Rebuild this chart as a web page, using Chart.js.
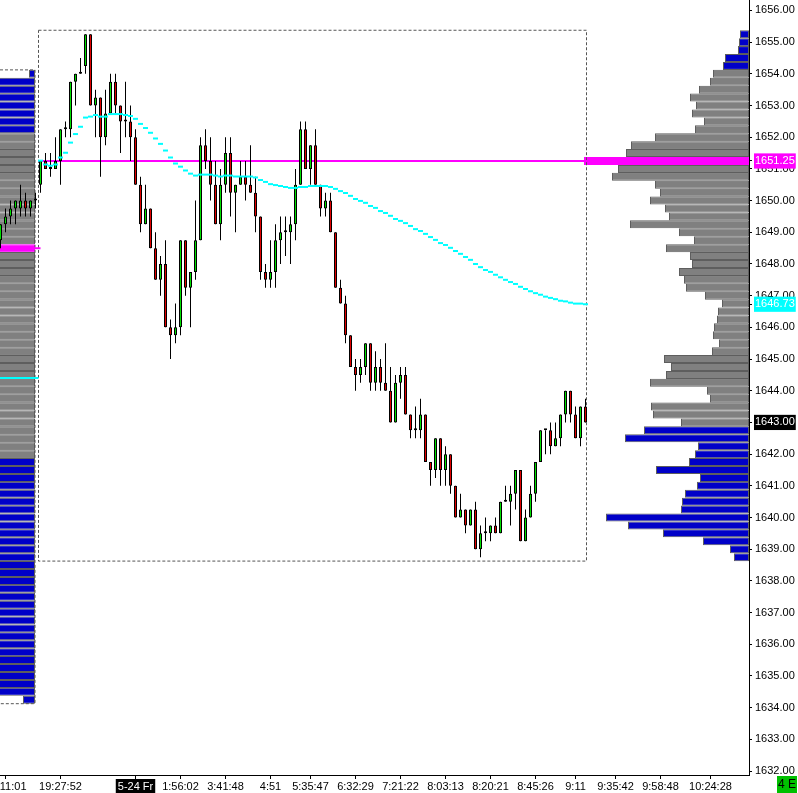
<!DOCTYPE html>
<html>
<head>
<meta charset="utf-8">
<title>Range bars with volume profile</title>
<script src="https://cdn.jsdelivr.net/npm/chart.js@4.4.1/dist/chart.umd.min.js"></script>
<style>
  html, body { margin: 0; padding: 0; background: #ffffff; overflow: hidden; }
  #box { position: relative; width: 798px; height: 793px; }
</style>
</head>
<body>
<div id="box"><canvas id="chart" width="798" height="793"></canvas></div>
<script>
// bar numbers: -8..-1 are the end of the previous session, 0.. the current one
const firstBar = -8;

const opens = [
  1648.75, 1649.25, 1649.5, 1649.75, 1649.75, 1650.0, 1649.75, 1650.0,
  1650.5, 1651.25, 1651.0, 1651.0, 1651.25, 1652.25, 1652.25, 1653.75, 1654.0, 1654.25,
  1655.25, 1653.0, 1653.25, 1652.0, 1652.75, 1653.75, 1653.0, 1652.5, 1652.5, 1652.0,
  1650.5, 1649.25, 1649.75, 1648.5, 1647.5, 1648.0, 1646.0, 1645.75, 1646.0, 1648.75,
  1647.25, 1647.75, 1648.75, 1651.75, 1651.25, 1650.5, 1649.25, 1650.5, 1651.5, 1650.25,
  1650.5, 1650.75, 1650.5, 1650.25, 1649.5, 1647.75, 1647.5, 1647.75, 1648.75, 1649.0,
  1649.0, 1649.25, 1650.5, 1652.25, 1651.0, 1651.75, 1650.5, 1649.75, 1650.0, 1649.0,
  1647.25, 1646.75, 1645.75, 1644.75, 1644.5, 1644.75, 1645.5, 1644.25, 1644.75, 1644.25,
  1644.0, 1643.0, 1644.25, 1644.5, 1643.25, 1642.75, 1642.75, 1643.25, 1641.75, 1641.5,
  1642.5, 1641.5, 1642.0, 1641.0, 1640.0, 1640.25, 1639.75, 1640.25, 1639.0, 1639.5,
  1639.5, 1639.75, 1639.5, 1640.5, 1640.5, 1640.75, 1641.5, 1639.25, 1640.0, 1640.75,
  1641.75, 1642.75, 1642.75, 1642.25, 1642.5, 1643.25, 1644.0, 1643.25, 1642.5, 1643.5
];
const highs = [
  1649.25, 1649.75, 1650.0, 1650.0, 1650.5, 1650.25, 1650.0, 1650.25,
  1651.25, 1651.5, 1651.5, 1652.0, 1652.25, 1652.5, 1653.75, 1654.0, 1654.5, 1655.25,
  1655.25, 1653.5, 1653.25, 1653.5, 1654.0, 1654.0, 1653.0, 1653.75, 1653.0, 1652.25,
  1650.75, 1650.5, 1649.75, 1649.0, 1648.25, 1648.75, 1646.25, 1646.75, 1648.75, 1648.75,
  1647.75, 1650.0, 1652.0, 1652.25, 1652.0, 1651.25, 1651.0, 1652.0, 1652.0, 1650.5,
  1651.25, 1651.25, 1651.75, 1650.75, 1649.5, 1648.0, 1648.75, 1649.25, 1649.5, 1649.5,
  1649.5, 1651.0, 1652.5, 1652.5, 1651.75, 1652.25, 1650.5, 1650.25, 1650.25, 1649.0,
  1647.5, 1647.0, 1645.75, 1645.0, 1645.0, 1645.5, 1645.5, 1645.25, 1645.0, 1645.5,
  1644.75, 1644.5, 1644.75, 1644.75, 1643.25, 1643.5, 1643.75, 1643.25, 1641.75, 1642.5,
  1642.5, 1642.25, 1642.0, 1641.0, 1640.75, 1640.25, 1640.25, 1640.5, 1639.75, 1640.0,
  1639.75, 1640.0, 1640.5, 1641.0, 1641.0, 1641.5, 1641.5, 1640.25, 1641.0, 1641.75,
  1642.75, 1642.75, 1643.0, 1643.0, 1643.25, 1644.0, 1644.0, 1643.5, 1643.5, 1643.75
];
const lows = [
  1648.5, 1649.0, 1649.25, 1649.25, 1649.5, 1649.5, 1649.5, 1649.75,
  1650.25, 1651.0, 1650.75, 1651.0, 1650.5, 1652.0, 1652.0, 1653.0, 1654.0, 1654.0,
  1653.0, 1652.0, 1650.75, 1651.75, 1652.75, 1652.75, 1651.5, 1652.0, 1651.25, 1650.5,
  1649.0, 1649.25, 1648.5, 1647.5, 1647.0, 1646.0, 1645.0, 1645.5, 1645.75, 1647.0,
  1646.0, 1647.5, 1648.75, 1651.0, 1650.0, 1649.25, 1648.75, 1650.25, 1649.5, 1649.0,
  1650.5, 1650.0, 1650.25, 1649.0, 1647.5, 1647.25, 1647.25, 1647.25, 1648.0, 1648.25,
  1648.0, 1648.75, 1650.5, 1651.0, 1650.5, 1650.5, 1649.5, 1649.5, 1649.0, 1647.25,
  1646.75, 1645.5, 1644.75, 1644.0, 1644.25, 1644.5, 1644.0, 1644.0, 1644.0, 1644.0,
  1643.0, 1643.0, 1643.75, 1643.25, 1642.5, 1642.5, 1642.5, 1641.75, 1641.0, 1641.25,
  1641.0, 1641.0, 1640.75, 1640.0, 1640.0, 1639.5, 1639.75, 1639.0, 1638.75, 1639.25,
  1639.25, 1639.5, 1639.5, 1640.5, 1639.75, 1640.25, 1639.25, 1639.25, 1640.0, 1640.5,
  1641.75, 1642.0, 1642.0, 1642.25, 1642.25, 1643.0, 1643.0, 1642.5, 1642.25, 1643.0
];
const closes = [
  1649.25, 1649.5, 1649.75, 1650.0, 1650.0, 1649.75, 1650.0, 1650.0,
  1651.25, 1651.0, 1651.0, 1651.25, 1652.25, 1652.25, 1653.75, 1654.0, 1654.0, 1655.25,
  1653.0, 1653.25, 1652.0, 1652.75, 1653.75, 1653.0, 1652.5, 1652.5, 1652.0, 1650.5,
  1649.25, 1649.75, 1648.5, 1647.5, 1648.0, 1646.0, 1645.75, 1646.0, 1648.75, 1647.25,
  1647.75, 1648.75, 1651.75, 1651.25, 1650.5, 1649.25, 1650.5, 1651.5, 1650.25, 1650.5,
  1650.75, 1650.5, 1650.25, 1649.5, 1647.75, 1647.5, 1647.75, 1648.75, 1649.0, 1649.0,
  1649.25, 1650.5, 1652.25, 1651.0, 1651.75, 1650.5, 1649.75, 1650.0, 1649.0, 1647.25,
  1646.75, 1645.75, 1644.75, 1644.5, 1644.75, 1645.5, 1644.25, 1644.75, 1644.25, 1644.0,
  1643.0, 1644.25, 1644.5, 1643.25, 1642.75, 1642.75, 1643.25, 1641.75, 1641.5, 1642.5,
  1641.5, 1642.0, 1641.0, 1640.0, 1640.25, 1639.75, 1640.25, 1639.0, 1639.5, 1639.5,
  1639.75, 1639.5, 1640.5, 1640.5, 1640.75, 1641.5, 1639.25, 1640.0, 1640.75, 1641.75,
  1642.75, 1642.75, 1642.25, 1642.5, 1643.25, 1644.0, 1643.25, 1642.5, 1643.5, 1643.0
];

// session vwap, one value per bar from bar 0
const vwap = [
  1651.26, 1651.14, 1651.10, 1651.14, 1651.36, 1651.51, 1651.83, 1652.10, 1652.33, 1652.62,
  1652.65, 1652.70, 1652.65, 1652.65, 1652.73, 1652.73, 1652.73, 1652.70, 1652.67, 1652.58,
  1652.42, 1652.29, 1652.14, 1651.96, 1651.79, 1651.58, 1651.36, 1651.17, 1651.07, 1650.95,
  1650.85, 1650.79, 1650.82, 1650.82, 1650.82, 1650.79, 1650.76, 1650.79, 1650.79, 1650.76,
  1650.76, 1650.76, 1650.76, 1650.73, 1650.65, 1650.59, 1650.52, 1650.49, 1650.46, 1650.43,
  1650.40, 1650.40, 1650.43, 1650.43, 1650.46, 1650.46, 1650.46, 1650.46, 1650.43, 1650.37,
  1650.30, 1650.24, 1650.15, 1650.05, 1649.99, 1649.93, 1649.83, 1649.77, 1649.67, 1649.61,
  1649.52, 1649.42, 1649.36, 1649.29, 1649.20, 1649.10, 1649.04, 1648.95, 1648.85, 1648.76,
  1648.66, 1648.60, 1648.51, 1648.41, 1648.32, 1648.22, 1648.13, 1648.00, 1647.90, 1647.81,
  1647.75, 1647.66, 1647.58, 1647.50, 1647.43, 1647.37, 1647.28, 1647.21, 1647.14, 1647.08,
  1647.03, 1646.97, 1646.93, 1646.89, 1646.84, 1646.82, 1646.78, 1646.75, 1646.75, 1646.73
];
const prevVwap = 1644.40;

// current session volume profile (0.25 rows)
const profilePrices = [
  1655.25, 1655.00, 1654.75, 1654.50, 1654.25, 1654.00, 1653.75, 1653.50, 1653.25, 1653.00,
  1652.75, 1652.50, 1652.25, 1652.00, 1651.75, 1651.50, 1651.25, 1651.00, 1650.75, 1650.50,
  1650.25, 1650.00, 1649.75, 1649.50, 1649.25, 1649.00, 1648.75, 1648.50, 1648.25, 1648.00,
  1647.75, 1647.50, 1647.25, 1647.00, 1646.75, 1646.50, 1646.25, 1646.00, 1645.75, 1645.50,
  1645.25, 1645.00, 1644.75, 1644.50, 1644.25, 1644.00, 1643.75, 1643.50, 1643.25, 1643.00,
  1642.75, 1642.50, 1642.25, 1642.00, 1641.75, 1641.50, 1641.25, 1641.00, 1640.75, 1640.50,
  1640.25, 1640.00, 1639.75, 1639.50, 1639.25, 1639.00, 1638.75
];
const profileVolumes = [
  9, 10, 11, 24, 26, 36, 39, 50, 59, 53,
  57, 45, 54, 94, 118, 123, 165, 131, 137, 94,
  89, 99, 84, 80, 119, 70, 55, 83, 59, 57,
  70, 65, 63, 44, 27, 31, 32, 35, 36, 30,
  37, 85, 78, 83, 99, 42, 39, 98, 96, 68,
  105, 124, 51, 54, 60, 93, 49, 52, 64, 67,
  68, 143, 121, 86, 46, 19, 15
];
const poc = 1651.25, vaHigh = 1654.00, vaLow = 1643.00;

// previous session profile (cut off by the left edge)
const prevProfilePrices = [
  1654.00, 1653.75, 1653.50, 1653.25, 1653.00, 1652.75, 1652.50, 1652.25, 1652.00, 1651.75,
  1651.50, 1651.25, 1651.00, 1650.75, 1650.50, 1650.25, 1650.00, 1649.75, 1649.50, 1649.25,
  1649.00, 1648.75, 1648.50, 1648.25, 1648.00, 1647.75, 1647.50, 1647.25, 1647.00, 1646.75,
  1646.50, 1646.25, 1646.00, 1645.75, 1645.50, 1645.25, 1645.00, 1644.75, 1644.50, 1644.25,
  1644.00, 1643.75, 1643.50, 1643.25, 1643.00, 1642.75, 1642.50, 1642.25, 1642.00, 1641.75,
  1641.50, 1641.25, 1641.00, 1640.75, 1640.50, 1640.25, 1640.00, 1639.75, 1639.50, 1639.25,
  1639.00, 1638.75, 1638.50, 1638.25, 1638.00, 1637.75, 1637.50, 1637.25, 1637.00, 1636.75,
  1636.50, 1636.25, 1636.00, 1635.75, 1635.50, 1635.25, 1635.00, 1634.75, 1634.50, 1634.25
];
const prevProfileVolumes = [
  6, 48, 52, 55, 61, 58, 63, 66, 74, 82,
  88, 95, 101, 108, 112, 120, 127, 133, 140, 147,
  152, 158, 171, 160, 154, 149, 143, 138, 131, 126,
  120, 117, 111, 106, 102, 97, 93, 90, 86, 83,
  80, 77, 75, 72, 70, 68, 66, 63, 61, 59,
  57, 56, 54, 55, 52, 50, 49, 51, 47, 46,
  48, 45, 44, 46, 43, 42, 44, 41, 40, 42,
  39, 40, 38, 39, 37, 38, 36, 37, 36, 12
];
const prevPoc = 1648.50, prevVaHigh = 1652.00, prevVaLow = 1642.00;

// axis labels
const priceTicks = [
  1632, 1633, 1634, 1635, 1636, 1637, 1638, 1639, 1640, 1641, 1642, 1643, 1644,
  1645, 1646, 1647, 1648, 1649, 1650, 1651, 1652, 1653, 1654, 1655, 1656
];
const timeTickBars = [-7, 4, 19, 28, 37, 46, 54, 63, 72, 81, 90, 99, 107, 115, 124, 134];
const timeLabels = ['18:11:01', '19:27:52', '5-24 Fr', '1:56:02', '3:41:48', '4:51', '5:35:47',
  '6:32:29', '7:21:22', '8:03:13', '8:20:21', '8:45:26', '9:11', '9:35:42', '9:58:48', '10:24:28'];
const dayBreakTick = 2;

const upColor = '#00e000', downColor = '#e00000';
const gray = '#808080', edgeGray = '#5e5e5e', blue = '#0000c8';
const magenta = '#ff00ff', cyan = '#00ffff';
const axisFont = { family: '"Liberation Sans", Arial, sans-serif', size: 11 };

const barX = opens.map((_, k) => firstBar + k);
const lastClose = closes[closes.length - 1];
const sessHigh = Math.max(...highs.slice(-firstBar));
const sessLow = Math.min(...lows.slice(-firstBar));
const sessStart = -0.4, sessEnd = barX[barX.length - 1] + 0.2;
const prevEdge = -1.1;
const xMin = -8.1, xMax = 141.7;

const priceMarkers = [
  { value: poc, bg: magenta },
  { value: vwap[vwap.length - 1], bg: cyan },
  { value: lastClose, bg: '#000000' }
];

function rowColor(p, pocP, hi, lo) {
  if (p === pocP) return magenta;
  return (p > hi || p < lo) ? blue : gray;
}

const datasets = [
  {
    // session vwap drawn as short steps
    type: 'line',
    data: vwap.map((v, k) => ({ x: k, y: v })),
    showLine: false,
    pointStyle: 'line',
    pointRadius: 2.5,
    pointBorderWidth: 2,
    pointBorderColor: cyan,
    pointBackgroundColor: cyan,
    order: 0
  },
  {
    type: 'bar',
    data: barX.map((x, k) => ({ x: x, y: [opens[k], closes[k]] })),
    backgroundColor: barX.map((_, k) => closes[k] >= opens[k] ? upColor : downColor),
    borderColor: '#000000',
    borderWidth: 1,
    borderSkipped: false,
    barThickness: 3,
    minBarLength: 2,
    grouped: false,
    inflateAmount: 0,
    order: 1
  },
  {
    type: 'bar',
    data: barX.map((x, k) => ({ x: x, y: [lows[k], highs[k]] })),
    backgroundColor: '#000000',
    borderWidth: 0,
    barThickness: 1,
    grouped: false,
    inflateAmount: 0,
    order: 2
  },
  {
    type: 'line',
    data: [{ x: sessStart, y: poc }, { x: xMax, y: poc }],
    borderColor: magenta,
    borderWidth: 2,
    pointRadius: 0,
    order: 3
  },
  {
    type: 'line',
    data: [{ x: xMin, y: prevPoc }, { x: 0, y: prevPoc }],
    borderColor: magenta,
    borderWidth: 2,
    pointRadius: 0,
    order: 4
  },
  {
    type: 'line',
    data: [{ x: xMin, y: prevVwap }, { x: sessStart, y: prevVwap }],
    borderColor: cyan,
    borderWidth: 2,
    pointRadius: 0,
    order: 4
  },
  {
    // current session range box
    type: 'line',
    data: [
      { x: sessStart, y: sessHigh + 0.125 }, { x: sessEnd, y: sessHigh + 0.125 },
      { x: sessEnd, y: sessLow - 0.125 }, { x: sessStart, y: sessLow - 0.125 },
      { x: sessStart, y: sessHigh + 0.125 }
    ],
    borderColor: '#555555',
    borderWidth: 1,
    borderDash: [3, 2],
    pointRadius: 0,
    order: 5
  },
  {
    // previous session range box
    type: 'line',
    data: [
      { x: xMin - 1, y: prevProfilePrices[0] + 0.125 }, { x: prevEdge, y: prevProfilePrices[0] + 0.125 },
      { x: prevEdge, y: prevProfilePrices[prevProfilePrices.length - 1] - 0.125 },
      { x: xMin - 1, y: prevProfilePrices[prevProfilePrices.length - 1] - 0.125 }
    ],
    borderColor: '#555555',
    borderWidth: 1,
    borderDash: [3, 2],
    pointRadius: 0,
    order: 5
  },
  {
    type: 'bar',
    indexAxis: 'y',
    xAxisID: 'xv',
    yAxisID: 'y',
    data: profilePrices.map((p, k) => ({ x: profileVolumes[k], y: p })),
    backgroundColor: profilePrices.map(p => rowColor(p, poc, vaHigh, vaLow)),
    borderColor: profilePrices.map(p => p === poc ? magenta : edgeGray),
    borderWidth: 1,
    borderSkipped: false,
    barThickness: 8,
    grouped: false,
    inflateAmount: 0,
    order: 6
  },
  {
    type: 'bar',
    indexAxis: 'y',
    xAxisID: 'x',
    yAxisID: 'y',
    data: prevProfilePrices.map((p, k) => ({ x: [prevEdge - prevProfileVolumes[k] / 5, prevEdge], y: p })),
    backgroundColor: prevProfilePrices.map(p => rowColor(p, prevPoc, prevVaHigh, prevVaLow)),
    borderColor: prevProfilePrices.map(p => p === prevPoc ? magenta : edgeGray),
    borderWidth: 1,
    borderSkipped: false,
    barThickness: 8,
    grouped: false,
    inflateAmount: 0,
    order: 7
  }
];

const cornerBadge = {
  id: 'cornerBadge',
  afterDraw(chart) {
    const ctx = chart.ctx;
    ctx.save();
    ctx.fillStyle = '#00c000';
    ctx.fillRect(777, 776, 20, 17);
    ctx.fillStyle = '#000000';
    ctx.font = '12px "Liberation Sans", Arial, sans-serif';
    ctx.textAlign = 'center';
    ctx.textBaseline = 'middle';
    ctx.fillText('4 E', 787, 785);
    ctx.restore();
  }
};

new Chart(document.getElementById('chart').getContext('2d'), {
  type: 'bar',
  data: { datasets: datasets },
  plugins: [cornerBadge],
  options: {
    responsive: false,
    animation: false,
    events: [],
    layout: { padding: 0, autoPadding: false },
    plugins: {
      legend: { display: false },
      tooltip: { enabled: false }
    },
    scales: {
      x: {
        type: 'linear',
        position: 'bottom',
        min: xMin,
        max: xMax,
        offset: false,
        afterBuildTicks: s => { s.ticks = timeTickBars.map(v => ({ value: v })); },
        afterFit: s => { s.height = 18; s.paddingLeft = 0; s.paddingRight = 0; },
        grid: { drawOnChartArea: false, drawTicks: true, tickLength: 4, color: '#000000', offset: false },
        border: { display: true, color: '#000000', width: 1 },
        ticks: {
          autoSkip: false,
          maxRotation: 0,
          padding: 1,
          font: axisFont,
          callback: (v, i) => timeLabels[i],
          color: c => c.index === dayBreakTick ? '#ffffff' : '#000000',
          showLabelBackdrop: c => c.index === dayBreakTick,
          backdropColor: '#000000',
          backdropPadding: { x: 2, y: 1 }
        }
      },
      xv: {
        type: 'linear',
        axis: 'x',
        display: false,
        offset: false,
        reverse: true,
        min: 0,
        max: 749
      },
      y: {
        type: 'linear',
        position: 'right',
        offset: false,
        min: 1631.875,
        max: 1656.33,
        afterBuildTicks: s => {
          s.ticks = priceTicks.map(v => ({ value: v }))
            .concat(priceMarkers.map(m => ({ value: m.value, bg: m.bg })));
        },
        afterFit: s => { s.width = 49; s.paddingTop = 0; s.paddingBottom = 0; },
        grid: { drawOnChartArea: false, drawTicks: true, tickLength: 3, color: '#000000', offset: false },
        border: { display: true, color: '#000000', width: 1 },
        ticks: {
          autoSkip: false,
          padding: 3,
          font: axisFont,
          callback: v => v.toFixed(2),
          color: c => (c.tick && c.tick.bg) ? '#ffffff' : '#000000',
          showLabelBackdrop: c => !!(c.tick && c.tick.bg),
          backdropColor: c => (c.tick && c.tick.bg) ? c.tick.bg : 'rgba(0,0,0,0)',
          backdropPadding: { x: 1, y: 1 }
        }
      }
    }
  }
});
</script>
</body>
</html>
